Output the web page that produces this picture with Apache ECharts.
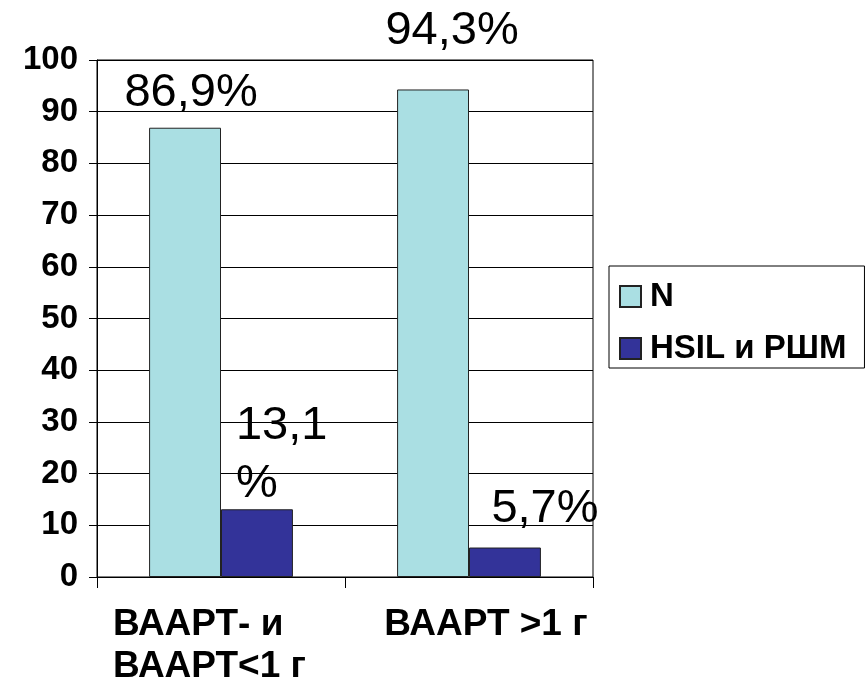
<!DOCTYPE html>
<html>
<head>
<meta charset="utf-8">
<script src="https://cdn.jsdelivr.net/npm/echarts@6/dist/echarts.min.js"></script>
<style>
  html, body { margin: 0; padding: 0; background: #fff; }
  #chart { width: 865px; height: 682px; }
</style>
</head>
<body>
<div id="chart"></div>
<script>
// Categories and series values (percent of patients)
const categories = ['ВААРТ- и\nВААРТ<1 г', 'ВААРТ >1 г'];
const seriesNames = ['N', 'HSIL и РШМ'];
const valuesN = [86.9, 94.3];
const valuesHSIL = [13.1, 5.7];
const yTicks = { min: 0, max: 100, interval: 10 };

const FONT = '"Liberation Sans", Arial, sans-serif';
const colors = ['#aadfe3', '#333399'];

// value -> "86,9%"
const pct = v => String(v).replace('.', ',') + '%';

// Label placement for each bar (offsets in px, distance above bar top)
const labelStyleN = [
  { offset: [6, 0], distance: 11 },
  { offset: [19, 0], distance: 35 }
];
const labelStyleHSIL = [
  { offset: [-21, 0], distance: -4, align: 'left', wrap: true },
  { offset: [40, 0], distance: 15 }
];

function buildData(values, styles) {
  return values.map((v, i) => {
    const s = styles[i];
    return {
      value: v,
      label: {
        show: true,
        position: 'top',
        offset: s.offset,
        distance: s.distance,
        align: s.align || 'center',
        lineHeight: s.wrap ? 58 : undefined,
        formatter: p => s.wrap ? pct(p.value).replace('%', '\n%') : pct(p.value)
      }
    };
  });
}

// Per-category label nudges; the two-line label is left-aligned
const catLabelStyle = [
  { padding: [0, 16, 0, 0] },
  { padding: [0, 0, 0, 34] }
];

const catFont = { fontFamily: FONT, fontSize: 37, fontWeight: 'bold', color: '#000', lineHeight: 42 };

const chart = echarts.init(document.getElementById('chart'), null, { renderer: 'canvas' });

chart.setOption({
  backgroundColor: '#fff',
  animation: false,
  textStyle: { fontFamily: FONT, color: '#000' },
  grid: {
    left: 97, right: 272, top: 60, bottom: 105,
    outerBoundsMode: 'none',
    containLabel: false,
    show: true, borderColor: '#000', borderWidth: 1, backgroundColor: 'transparent'
  },
  legend: {
    orient: 'vertical',
    left: 609, top: 266,
    padding: [14, 18, 3, 10],
    itemWidth: 21, itemHeight: 21, itemGap: 19,
    borderColor: '#000', borderWidth: 1,
    icon: 'rect',
    textStyle: { fontFamily: FONT, fontSize: 33, fontWeight: 'bold', color: '#000', padding: [0, 0, 0, 4] },
    data: seriesNames
  },
  xAxis: {
    type: 'category',
    data: categories.map((c, i) => ({ value: c, textStyle: catLabelStyle[i] })),
    axisLine: { lineStyle: { color: '#000', width: 1 } },
    axisTick: { show: true, length: 11, lineStyle: { color: '#000' } },
    axisLabel: Object.assign({}, catFont, {
      margin: 27,
      interval: 0,
      formatter: (value) => value.includes('\n')
        ? value.split('\n').map(s => '{l|' + s + '}').join('\n')
        : value,
      rich: { l: Object.assign({}, catFont, { width: 200, align: 'left' }) }
    }),
    splitLine: { show: false }
  },
  yAxis: {
    type: 'value',
    min: yTicks.min, max: yTicks.max, interval: yTicks.interval,
    axisLine: { show: true, lineStyle: { color: '#000', width: 1 } },
    axisTick: { show: true, length: 8, lineStyle: { color: '#000' } },
    axisLabel: { fontFamily: FONT, fontSize: 33, fontWeight: 'bold', color: '#000', margin: 19 },
    splitLine: { show: true, lineStyle: { color: '#000', width: 1 } }
  },
  series: [
    {
      name: seriesNames[0],
      type: 'bar',
      barGap: '0%',
      barCategoryGap: '42%',
      itemStyle: { color: colors[0], borderColor: '#222', borderWidth: 1 },
      label: { fontFamily: FONT, fontSize: 47, color: '#000' },
      data: buildData(valuesN, labelStyleN)
    },
    {
      name: seriesNames[1],
      type: 'bar',
      barGap: '0%',
      barCategoryGap: '42%',
      itemStyle: { color: colors[1], borderColor: '#222', borderWidth: 1 },
      label: { fontFamily: FONT, fontSize: 47, color: '#000' },
      data: buildData(valuesHSIL, labelStyleHSIL)
    }
  ]
});
</script>
</body>
</html>
